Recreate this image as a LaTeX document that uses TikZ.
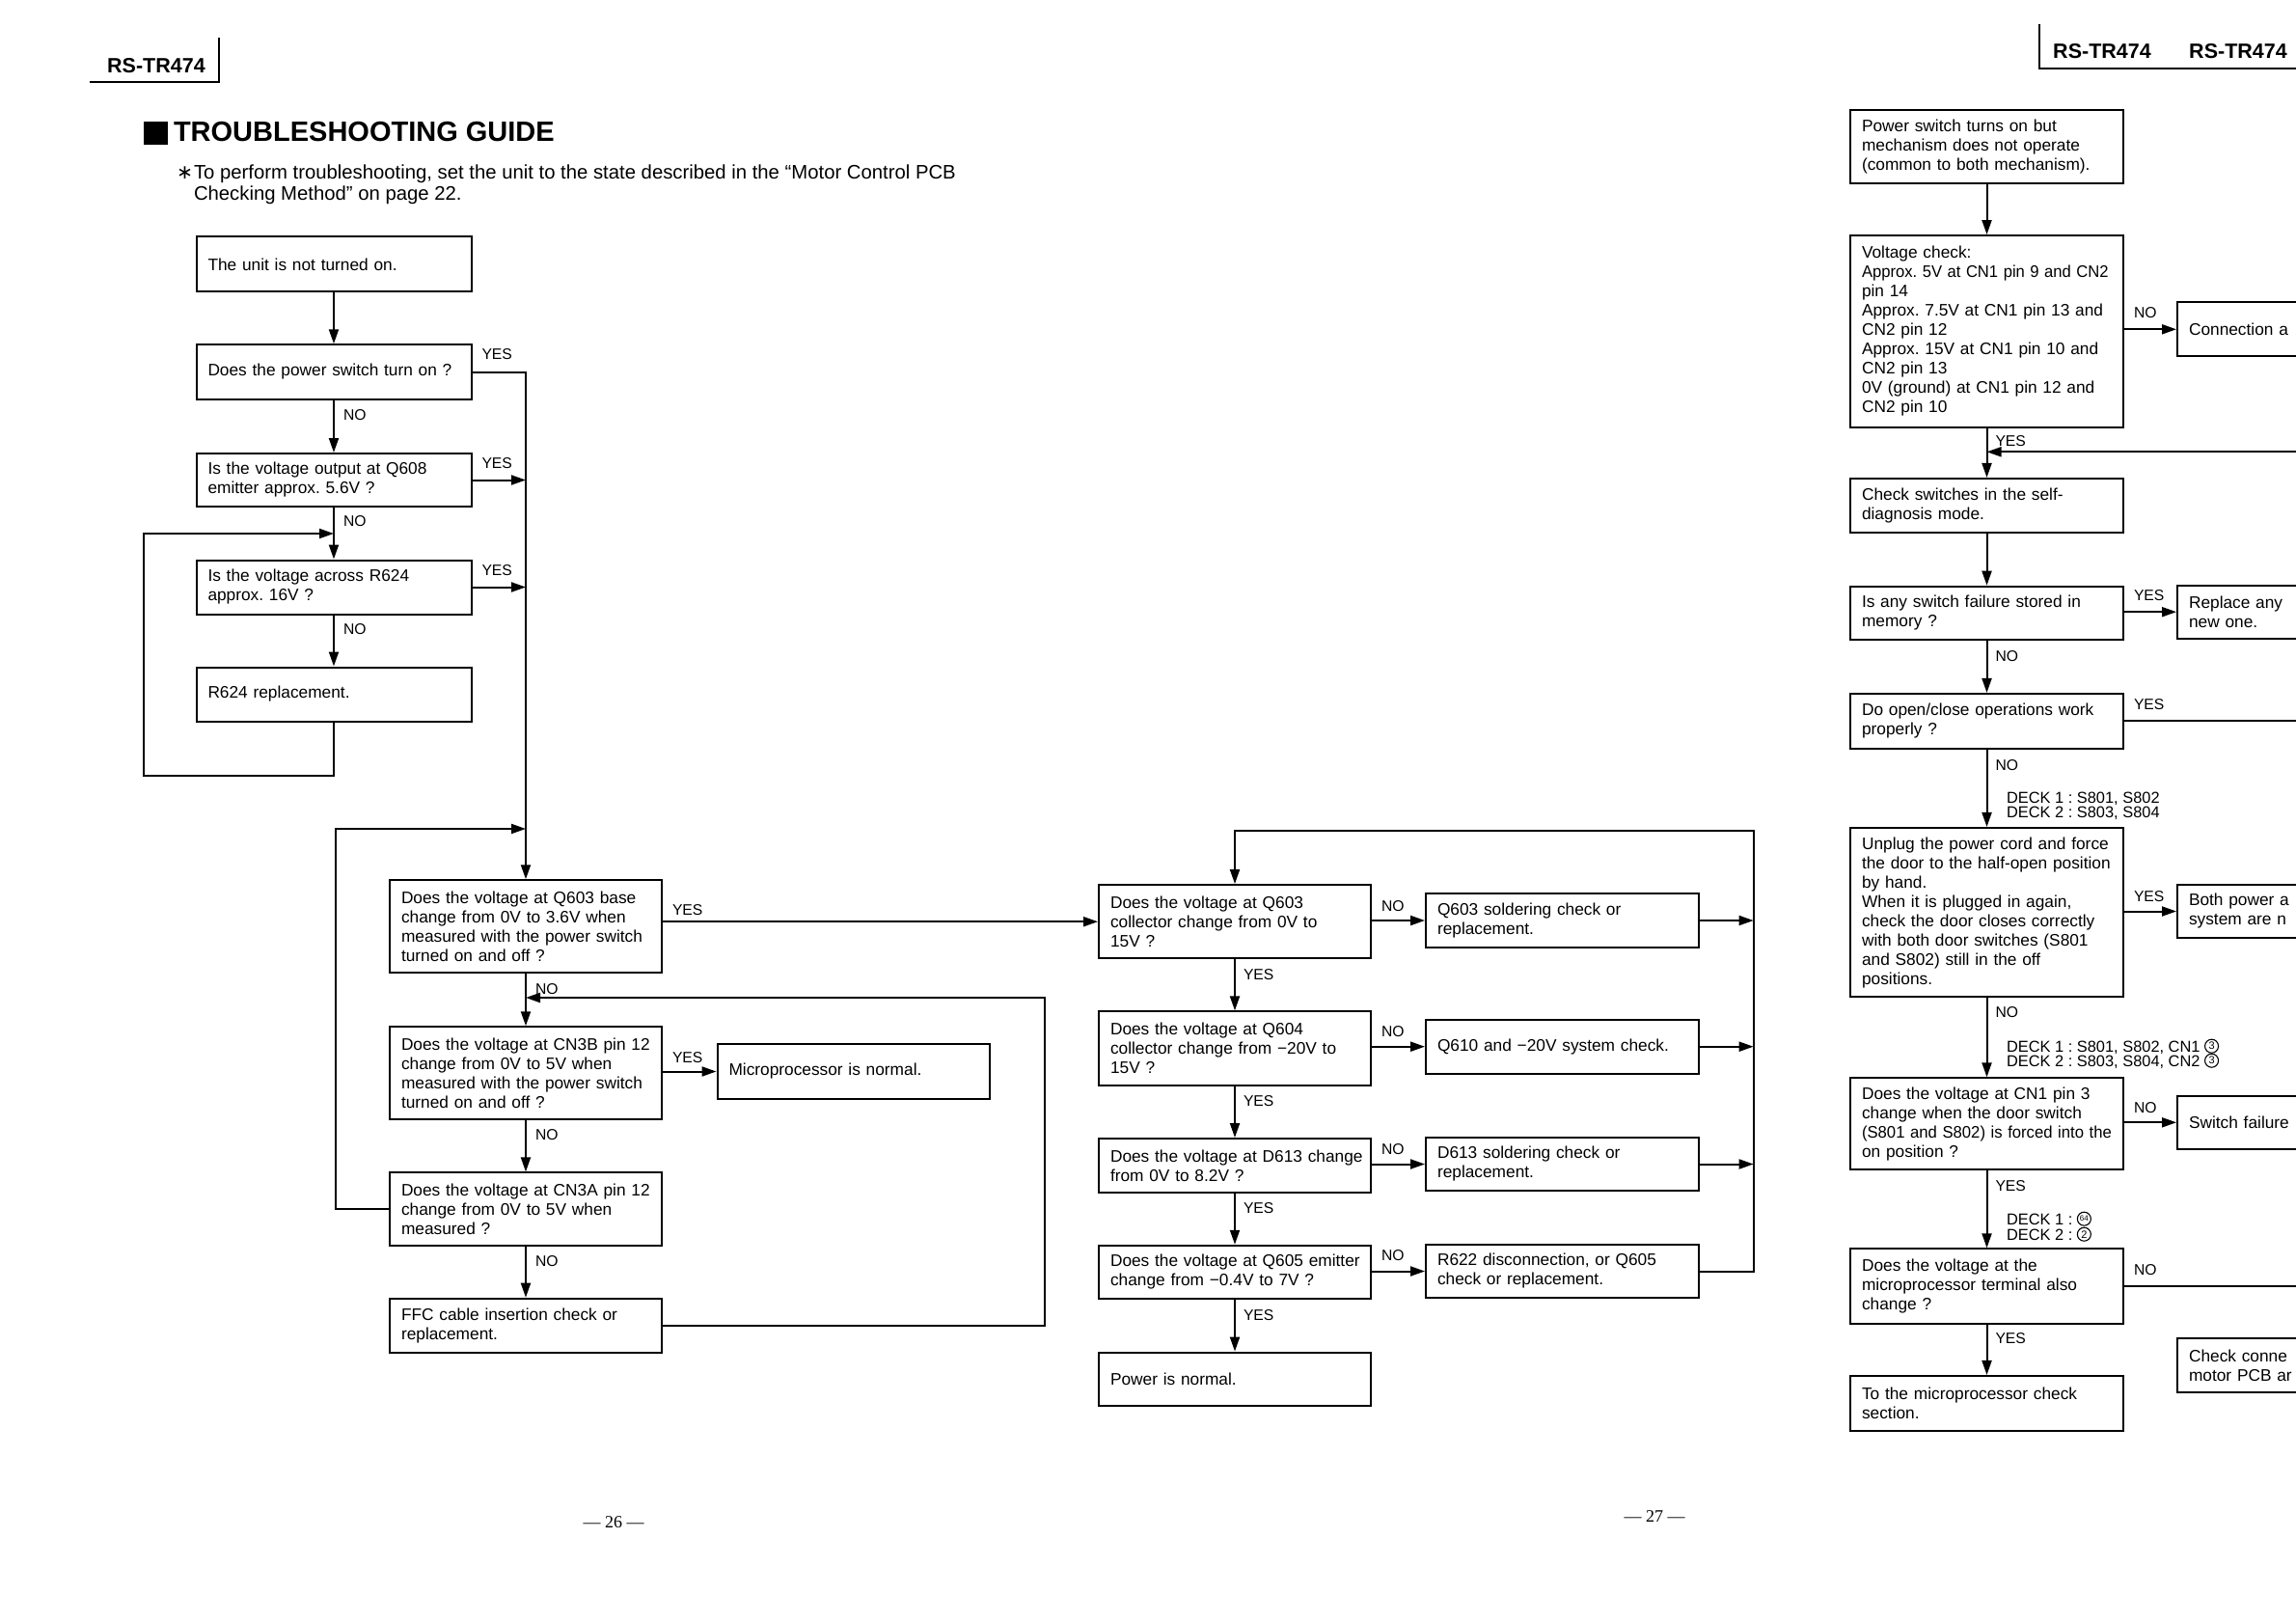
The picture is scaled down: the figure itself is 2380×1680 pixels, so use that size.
\documentclass[tikz,border=0pt]{standalone}
\usepackage{fontspec}
\usepackage{graphicx}
\setmainfont{Liberation Sans}
\newfontfamily\dejavu{DejaVu Sans}
\newfontfamily\pagenumfont{Liberation Serif}
\usetikzlibrary{arrows.meta,calc}
\frenchspacing
\begin{document}
\begin{tikzpicture}[x=1pt,y=-1pt,line width=2pt,
  box/.style n args={2}{draw, rectangle, align=left,
    minimum width=#1, text width={#1-24}, minimum height=#2,
    inner xsep=12pt, inner ysep=0pt,
    font=\fontsize{17.3}{20}\selectfont,
    execute at begin node={\frenchspacing\rightskip=0pt plus 1fil minus 40pt}},
  arr/.style={-{Triangle[length=15pt,width=10pt]}},
  lab/.style={anchor=west, inner sep=0pt, font=\fontsize{15.7}{17}\selectfont},
  deck/.style={anchor=base west, inner sep=0pt, font=\fontsize{16.4}{15}\selectfont},
  cnum/.style={circle, draw, line width=1.1pt, inner sep=0pt, minimum size=14pt, font=\fontsize{11}{11}\selectfont},
  hdr/.style={inner sep=0pt, font=\bfseries\fontsize{21.5}{24}\selectfont},
]
\fill[white] (0,0) rectangle (2380,1680);
\useasboundingbox (0,0) rectangle (2380,1680);

% ---------- headers ----------
\draw (92.6,85) -- (226.6,85) -- (226.6,39);
\node[hdr] (hdrL) at (162,68) {RS-TR474};
\draw (2114,25) -- (2114,70.7) -- (2380,70.7);
\node[hdr] (hdrR1) at (2179,53) {RS-TR474};
\node[hdr] (hdrR2) at (2320,53) {RS-TR474};

\fill (149,126) rectangle (174,150);
\node[anchor=base west, inner sep=0pt, font=\bfseries\fontsize{29}{32}\selectfont] (title) at (179,146.5) {TROUBLESHOOTING GUIDE};
\node[anchor=base west, inner sep=0pt, font=\fontsize{20.3}{22}\selectfont] (note1) at (182,186) {\makebox[18pt][l]{\dejavu ∗}To perform troubleshooting, set the unit to the state described in the “Motor Control PCB};
\node[anchor=base west, inner sep=0pt, font=\fontsize{20.3}{22}\selectfont] (note2) at (200,208) {Checking Method” on page 22.};

\node[inner sep=0pt, font=\pagenumfont\fontsize{18}{20}\selectfont] (pg26) at (636,1578) {— 26 —};
\node[inner sep=0pt, font=\pagenumfont\fontsize{18}{20}\selectfont] (pg27) at (1715,1572) {— 27 —};

% ---------- left column ----------
\node[box={285}{57}] (A) at (346,274) {The unit is not turned on.};
\node[box={285}{56.5}] (B) at (346,385.5) {Does the power switch turn on ?};
\node[box={285}{55}] (C) at (346,497.5) {Is the voltage output at Q608\\emitter approx. 5.6V ?};
\node[box={285}{56}] (D) at (346,608.5) {Is the voltage across R624\\approx. 16V ?};
\node[box={285}{56}] (E) at (346,719.5) {R624 replacement.};

\coordinate (lpE) at (149,804);
\coordinate (jCD) at (346,553);

\draw[arr] (A.south) -- (B.north);
\draw[arr] (B.south) -- (C.north);
\draw[arr] (C.south) -- (D.north);
\draw[arr] (D.south) -- (E.north);
\draw[arr] (E.south) |- (lpE) |- (jCD);

\node[lab] (yB) at ($(B.east)+(9,-18)$) {YES};
\node[lab] (nB) at ($(B.south)+(9,15)$) {NO};
\node[lab] (yC) at ($(C.east)+(9,-17)$) {YES};
\node[lab] (nC) at ($(C.south)+(9,14)$) {NO};
\node[lab] (yD) at ($(D.east)+(9,-17)$) {YES};
\node[lab] (nD) at ($(D.south)+(9,15)$) {NO};

% ---------- middle-left column ----------
\node[box={282}{95.5}] (F) at (545,960) {Does the voltage at Q603 base\\change from 0V to 3.6V when\\measured with the power switch\\turned on and off ?};
\node[box={282}{95.5}] (H) at (545,1112) {Does the voltage at CN3B pin 12\\change from 0V to 5V when\\measured with the power switch\\turned on and off ?};
\node[box={282}{75.6}] (I) at (545,1253.2) {Does the voltage at CN3A pin 12\\change from 0V to 5V when\\measured ?};
\node[box={282}{56}] (J) at (545,1373.7) {FFC cable insertion check or\\replacement.};
\node[box={282}{57}] (Mi) at (884.5,1110.5) {Microprocessor is normal.};

\coordinate (lpI) at (348,859);
\coordinate (lpJ) at (1082.6,1034);

\draw[arr] (B.east) -| (F.north);
\draw[arr] (C.east) -- (C.east -| F.north);
\draw[arr] (D.east) -- (D.east -| F.north);
\draw[arr] (F.south) -- (H.north);
\draw[arr] (H.south) -- (I.north);
\draw[arr] (I.south) -- (J.north);
\draw[arr] (H.east |- Mi.west) -- (Mi.west);
\draw[arr] (I.west) -| (lpI) -- (lpI -| F.north);
\draw[arr] (J.east) -| (lpJ) -- (lpJ -| H.north);

\node[lab] (yF) at ($(F.east)+(9,-17)$) {YES};
\node[lab] (nF) at ($(F.south)+(9,16)$) {NO};
\node[lab] (yH) at ($(H.east)+(9,-16)$) {YES};
\node[lab] (nH) at ($(H.south)+(9,15.5)$) {NO};
\node[lab] (nI) at ($(I.south)+(9,15)$) {NO};

% ---------- middle column ----------
\node[box={282}{76.3}] (K) at (1280,955.2) {Does the voltage at Q603\\collector change from 0V to\\15V ?};
\node[box={282}{76.3}] (L) at (1280,1086.5) {Does the voltage at Q604\\collector change from −20V to\\15V ?};
\node[box={282}{56.2}] (M) at (1280,1208.1) {Does the voltage at D613 change\\from 0V to 8.2V ?};
\node[box={282}{55.3}] (N) at (1280,1318.4) {Does the voltage at Q605 emitter\\change from −0.4V to 7V ?};
\node[box={282}{55.3}] (O) at (1280,1429.2) {Power is normal.};
\node[box={283}{56.5}] (K2) at (1619.5,954) {Q603 soldering check or\\replacement.};
\node[box={283}{56}] (L2) at (1619.5,1084.7) {Q610 and −20V system check.};
\node[box={283}{55.3}] (M2) at (1619.5,1206.5) {D613 soldering check or\\replacement.};
\node[box={283}{55.7}] (N2) at (1619.5,1317.5) {R622 disconnection, or Q605\\check or replacement.};

\coordinate (loopR) at (1817.6,860.6);

\draw[arr] (F.east |- K.west) -- (K.west);
\draw[arr] (K.south) -- (L.north);
\draw[arr] (L.south) -- (M.north);
\draw[arr] (M.south) -- (N.north);
\draw[arr] (N.south) -- (O.north);
\draw[arr] (K.east |- K2.west) -- (K2.west);
\draw[arr] (L.east |- L2.west) -- (L2.west);
\draw[arr] (M.east |- M2.west) -- (M2.west);
\draw[arr] (N.east |- N2.west) -- (N2.west);
\draw[arr] (K2.east) -- (K2.east -| loopR);
\draw[arr] (L2.east) -- (L2.east -| loopR);
\draw[arr] (M2.east) -- (M2.east -| loopR);
\draw[arr] (N2.east) -| (loopR) -| (K.north);

\node[lab] (nK) at ($(K.east)+(9,-16.5)$) {NO};
\node[lab] (yK) at ($(K.south)+(8,15.5)$) {YES};
\node[lab] (nL) at ($(L.east)+(9,-17)$) {NO};
\node[lab] (yL) at ($(L.south)+(8,15.8)$) {YES};
\node[lab] (nM) at ($(M.east)+(9,-17)$) {NO};
\node[lab] (yM) at ($(M.south)+(8,15)$) {YES};
\node[lab] (nN) at ($(N.east)+(9,-17)$) {NO};
\node[lab] (yN) at ($(N.south)+(8,16)$) {YES};

% ---------- right column ----------
\node[box={283}{75.5}] (P) at (2059.5,151.8) {Power switch turns on but\\mechanism does not operate\\(common to both mechanism).};
\node[box={283}{198.5}] (Q) at (2059.5,343.3) {Voltage check:\\\scalebox{0.96}[1]{Approx. 5V at CN1 pin 9 and CN2}\\pin 14\\Approx. 7.5V at CN1 pin 13 and\\CN2 pin 12\\Approx. 15V at CN1 pin 10 and\\CN2 pin 13\\0V (ground) at CN1 pin 12 and\\CN2 pin 10};
\node[box={283}{55.7}] (S) at (2059.5,523.8) {Check switches in the self-\\diagnosis mode.};
\node[box={283}{55.6}] (T) at (2059.5,635.5) {Is any switch failure stored in\\memory ?};
\node[box={283}{56.7}] (V) at (2059.5,747.3) {Do open/close operations work\\properly ?};
\node[box={283}{175.5}] (W) at (2059.5,945.7) {Unplug the power cord and force\\the door to the half-open position\\by hand.\\When it is plugged in again,\\check the door closes correctly\\with both door switches (S801\\and S802) still in the off\\positions.};
\node[box={283}{95}] (Y) at (2059.5,1164.8) {Does the voltage at CN1 pin 3\\change when the door switch\\\scalebox{0.965}[1]{(S801 and S802) is forced into the}\\on position ?};
\node[box={283}{77.4}] (AA) at (2059.5,1333) {Does the voltage at the\\microprocessor terminal also\\change ?};
\node[box={283}{56.7}] (AB) at (2059.5,1454.3) {To the microprocessor check\\section.};

\begin{scope}
\clip (0,0) rectangle (2380,1680);
\node[box={300}{56}] (R) at (2407,341.3) {Connection a};
\node[box={300}{55}] (U) at (2407,634.2) {Replace any\\new one.};
\node[box={300}{55.6}] (X) at (2407,944.5) {Both power a\\system are n};
\node[box={300}{54.7}] (Z) at (2407,1163.3) {Switch failure};
\node[box={300}{56}] (AC) at (2407,1415.3) {Check conne\\motor PCB ar};
\end{scope}

\coordinate (redge) at (2380,0);
\coordinate (inQS) at (2380,468.3);

\draw[arr] (P.south) -- (Q.north);
\draw[arr] (Q.south) -- (S.north);
\draw[arr] (Q.east |- R.west) -- (R.west);
\draw[arr] (inQS) -- (inQS -| Q.south);
\draw[arr] (S.south) -- (T.north);
\draw[arr] (T.south) -- (V.north);
\draw[arr] (V.south) -- (W.north);
\draw[arr] (W.south) -- (Y.north);
\draw[arr] (Y.south) -- (AA.north);
\draw[arr] (AA.south) -- (AB.north);
\draw[arr] (T.east |- U.west) -- (U.west);
\draw[arr] (W.east |- X.west) -- (X.west);
\draw[arr] (Y.east |- Z.west) -- (Z.west);
\draw (V.east) -- (V.east -| redge);
\draw (AA.east) -- (AA.east -| redge);

\node[lab] (nQ) at ($(Q.east |- R.west)+(9,-17)$) {NO};
\node[lab] (yQ) at ($(Q.south)+(8,14)$) {YES};
\node[lab] (yT) at ($(T.east)+(9,-18)$) {YES};
\node[lab] (nT) at ($(T.south)+(8,16)$) {NO};
\node[lab] (yV) at ($(V.east)+(9,-17)$) {YES};
\node[lab] (nV) at ($(V.south)+(8,16)$) {NO};
\node[lab] (yW) at ($(W.east)+(9,-17)$) {YES};
\node[lab] (nW) at ($(W.south)+(8,15)$) {NO};
\node[lab] (nY) at ($(Y.east)+(9,-17)$) {NO};
\node[lab] (yY) at ($(Y.south)+(8,15.4)$) {YES};
\node[lab] (nAA) at ($(AA.east)+(9,-17)$) {NO};
\node[lab] (yAA) at ($(AA.south)+(8,14.3)$) {YES};

\node[deck] (dk1a) at (2079,832.6) {DECK 1 : S801, S802};
\node[deck] (dk1b) at (2079,847.6) {DECK 2 : S803, S804};
\node[deck] (dk2a) at (2079,1090.2) {DECK 1 : S801, S802, CN1};
\node[cnum] (c2a) at ($(dk2a.base east)+(11,-6)$) {3};
\node[deck] (dk2b) at (2079,1105.2) {DECK 2 : S803, S804, CN2};
\node[cnum] (c2b) at ($(dk2b.base east)+(11,-6)$) {3};
\node[deck] (dk3a) at (2079,1269.2) {DECK 1 :};
\node[cnum, font=\fontsize{8}{8}\selectfont] (c3a) at ($(dk3a.base east)+(11,-6)$) {64};
\node[deck] (dk3b) at (2079,1285.2) {DECK 2 :};
\node[cnum] (c3b) at ($(dk3b.base east)+(11,-6)$) {2};

\end{tikzpicture}
\end{document}
